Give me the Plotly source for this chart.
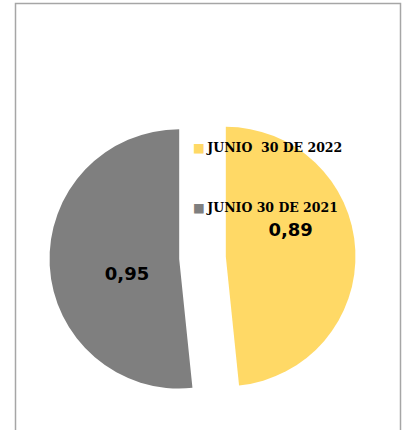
import plotly.graph_objects as go

labels = ["JUNIO\u00a0\u00a030 DE 2022", "JUNIO 30 DE 2021"]
values = [0.89, 0.95]
colors = ["#FFD966", "#7F7F7F"]

W, H = 405, 430

fig = go.Figure()
fig.add_trace(go.Pie(
    labels=labels,
    values=values,
    marker=dict(colors=colors, line=dict(width=0)),
    sort=False,
    direction="clockwise",
    rotation=0,
    pull=[0.18, 0.18],
    texttemplate=["%{value:.2f}<br>\u00a0<br>\u00a0",
                  "\u00a0<br>\u00a0\u00a0\u00a0\u00a0%{value:.2f}"],
    textposition="inside",
    insidetextorientation="horizontal",
    textfont=dict(family="DejaVu Sans", size=18, color="black", weight="bold"),
    showlegend=False,
    domain=dict(x=[0.1222, 0.8778], y=[0.0449, 0.7565]),
    hoverinfo="label+value",
))

# legend drawn as annotations built from labels/colors
leg_y = [1 - 147 / H, 1 - 207 / H]
for lab, col, yy in zip(labels, colors, leg_y):
    fig.add_annotation(
        x=191 / W, y=yy, xref="paper", yref="paper",
        xanchor="left", yanchor="middle", showarrow=False,
        text=f'<span style="color:{col}">\u25a0</span>\u2009<b>{lab}</b>',
        font=dict(family="DejaVu Serif", size=12.5, color="black"),
    )

fig.add_shape(type="rect", xref="paper", yref="paper",
              x0=15.5 / W, x1=400.5 / W, y0=-0.2, y1=1 - 3.5 / H,
              line=dict(color="#A6A6A6", width=1.5), fillcolor="rgba(0,0,0,0)")

fig.update_layout(
    width=W, height=H,
    margin=dict(l=0, r=0, t=0, b=0),
    paper_bgcolor="white", plot_bgcolor="white",
    separators=",.",
)

fig.write_html("out.html", config={"displayModeBar": False},
               post_script="document.body.style.margin='0';")
